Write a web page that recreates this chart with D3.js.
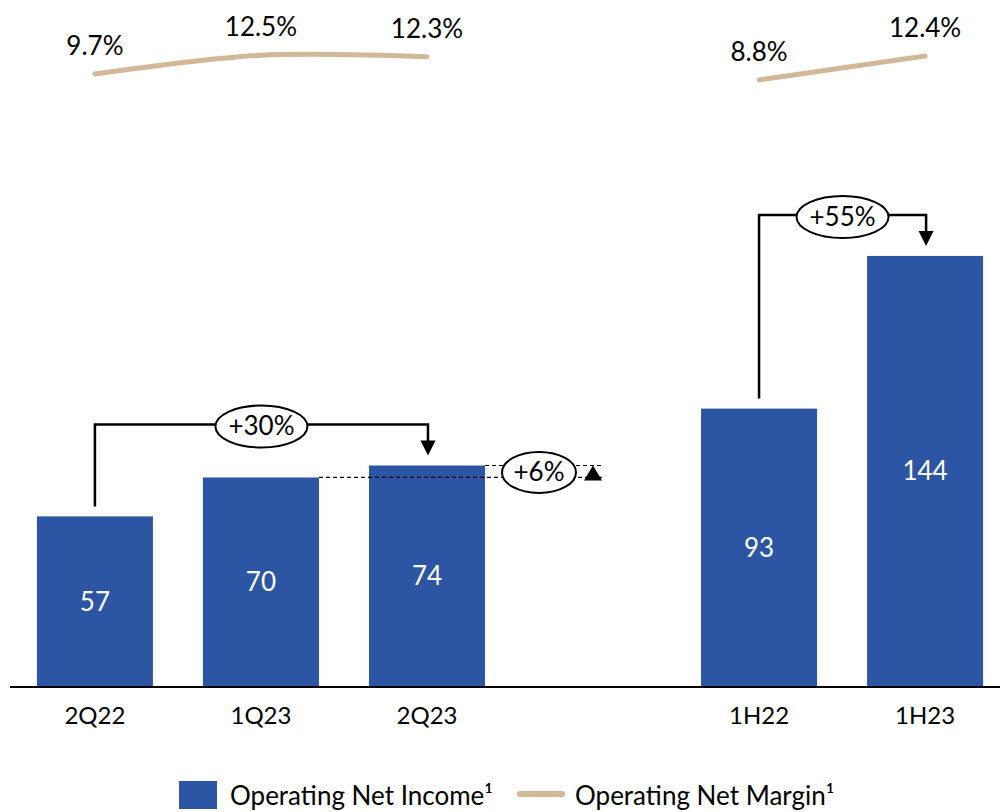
<!DOCTYPE html>
<html>
<head>
<meta charset="utf-8">
<script src="https://cdn.jsdelivr.net/npm/d3@7"></script>
<style>
  html, body { margin: 0; padding: 0; background: #fff; }
  svg { display: block; font-family: Lato, "Open Sans", sans-serif; }
</style>
</head>
<body>
<svg id="chart" width="1000" height="812"></svg>
<script>
// ---- data ----
const categories = ["2Q22", "1Q23", "2Q23", "", "1H22", "1H23"];
const incomeCategories = ["2Q22", "1Q23", "2Q23", "1H22", "1H23"];
const incomeValues = [57, 70, 74, 93, 144];
const marginGroupA = ["2Q22", "1Q23", "2Q23"];
const marginValuesA = [9.7, 12.5, 12.3];
const marginGroupB = ["1H22", "1H23"];
const marginValuesB = [8.8, 12.4];
const growthFrom = ["2Q22", "1H22"];
const growthTo = ["2Q23", "1H23"];
const growthLabels = ["+30%", "+55%"];
const qoqFrom = "1Q23";
const qoqTo = "2Q23";
const qoqLabel = "+6%";
const legendLabels = ["Operating Net Income\u00B9", "Operating Net Margin\u00B9"];

const BLUE = "#2C55A3";
const TAN = "#D2B899";

const svg = d3.select("#chart");

const x = d3.scaleBand().domain(categories).range([12, 1008])
  .paddingInner(50 / 166).paddingOuter(0.15);
const y = d3.scaleLinear().domain([0, 150]).range([687, 238]);
const m = d3.scaleLinear().domain([8.8, 12.4]).range([80, 56]);
const cx = c => x(c) + x.bandwidth() / 2;

// bars
svg.append("g").selectAll("rect")
  .data(incomeCategories.map((c, i) => ({ c, v: incomeValues[i] })))
  .join("rect")
  .attr("x", d => x(d.c))
  .attr("y", d => y(d.v))
  .attr("width", x.bandwidth())
  .attr("height", d => y(0) - y(d.v))
  .attr("fill", BLUE);

// bar value labels
svg.append("g").selectAll("text")
  .data(incomeCategories.map((c, i) => ({ c, v: incomeValues[i] })))
  .join("text")
  .attr("x", d => cx(d.c))
  .attr("y", d => (y(d.v) + y(0)) / 2 + 9)
  .attr("text-anchor", "middle")
  .attr("fill", "#fff")
  .attr("font-size", 26)
  .text(d => d.v);

// axis
const axis = svg.append("g").attr("transform", `translate(0,${y(0)})`)
  .call(d3.axisBottom(x).tickSize(0).tickPadding(20).tickFormat(d => d));
axis.select(".domain").remove();
axis.selectAll("text").attr("font-size", 24).attr("fill", "#000")
  .attr("font-family", "Lato, 'Open Sans', sans-serif");
svg.append("line").attr("x1", 10).attr("x2", 1000)
  .attr("y1", y(0)).attr("y2", y(0)).attr("stroke", "#000").attr("stroke-width", 2);

// margin lines
const line = d3.line().x(d => cx(d.c)).y(d => m(d.v)).curve(d3.curveCatmullRom.alpha(0.5));
[[marginGroupA, marginValuesA], [marginGroupB, marginValuesB]].forEach(([cats, vals]) => {
  const pts = cats.map((c, i) => ({ c, v: vals[i] }));
  svg.append("path").datum(pts).attr("d", line)
    .attr("fill", "none").attr("stroke", TAN).attr("stroke-width", 5)
    .attr("stroke-linecap", "round");
  svg.append("g").selectAll("text").data(pts).join("text")
    .attr("x", d => cx(d.c))
    .attr("y", d => m(d.v) - 19)
    .attr("text-anchor", "middle")
    .attr("font-size", 26)
    .attr("fill", "#000")
    .text(d => d.v.toFixed(1) + "%");
});

// growth connectors
const ann = svg.append("g");
function downArrow(g, xc, tip) {
  g.append("path").attr("d", `M${xc - 7.5},${tip - 15}L${xc + 7.5},${tip - 15}L${xc},${tip}Z`).attr("fill", "#000");
}
growthFrom.forEach((f, i) => {
  const t = growthTo[i];
  const fv = incomeValues[incomeCategories.indexOf(f)];
  const tv = incomeValues[incomeCategories.indexOf(t)];
  const x1 = cx(f), x2 = cx(t) + 1;
  const level = y(tv) - 41;
  const tip = y(tv) - 10;
  ann.append("path")
    .attr("d", `M${x1},${y(fv) - 10}V${level}H${x2}V${tip - 14}`)
    .attr("fill", "none").attr("stroke", "#000").attr("stroke-width", 2.5);
  downArrow(ann, x2, tip);
  const ex = (x1 + x2) / 2;
  ann.append("ellipse").attr("cx", ex).attr("cy", level + 2).attr("rx", 46).attr("ry", 21)
    .attr("fill", "#fff").attr("stroke", "#000").attr("stroke-width", 2);
  ann.append("text").attr("x", ex).attr("y", level + 11).attr("text-anchor", "middle")
    .attr("font-size", 26).attr("fill", "#000").text(growthLabels[i]);
});

// qoq annotation
{
  const fv = incomeValues[incomeCategories.indexOf(qoqFrom)];
  const tv = incomeValues[incomeCategories.indexOf(qoqTo)];
  const triX = cx("");
  const endX = triX + 9;
  ann.append("line").attr("x1", x(qoqFrom) + x.bandwidth()).attr("x2", endX)
    .attr("y1", y(fv)).attr("y2", y(fv))
    .attr("stroke", "#000").attr("stroke-width", 1.2).attr("stroke-dasharray", "4,3");
  ann.append("line").attr("x1", x(qoqTo) + x.bandwidth()).attr("x2", endX)
    .attr("y1", y(tv)).attr("y2", y(tv))
    .attr("stroke", "#000").attr("stroke-width", 1.2).attr("stroke-dasharray", "4,3");
  ann.append("path").attr("d", `M${triX - 9},${y(fv) + 3}L${triX + 9},${y(fv) + 3}L${triX},${y(tv)}Z`).attr("fill", "#000");
  const ex = (x(qoqTo) + x.bandwidth() + triX) / 2;
  const ey = (y(fv) + y(tv)) / 2 + 1;
  ann.append("ellipse").attr("cx", ex).attr("cy", ey).attr("rx", 37).attr("ry", 20.5)
    .attr("fill", "#fff").attr("stroke", "#000").attr("stroke-width", 2);
  ann.append("text").attr("x", ex).attr("y", ey + 9).attr("text-anchor", "middle")
    .attr("font-size", 26).attr("fill", "#000").text(qoqLabel);
}

// legend
const lg = svg.append("g");
lg.append("rect").attr("x", 179).attr("y", 781).attr("width", 38).attr("height", 28).attr("fill", BLUE);
lg.append("text").attr("x", 230).attr("y", 805).attr("font-size", 26).attr("fill", "#000").text(legendLabels[0]);
lg.append("line").attr("x1", 520).attr("x2", 562).attr("y1", 794).attr("y2", 794)
  .attr("stroke", TAN).attr("stroke-width", 6).attr("stroke-linecap", "round");
lg.append("text").attr("x", 575).attr("y", 805).attr("font-size", 26).attr("fill", "#000").text(legendLabels[1]);
</script>
</body>
</html>
